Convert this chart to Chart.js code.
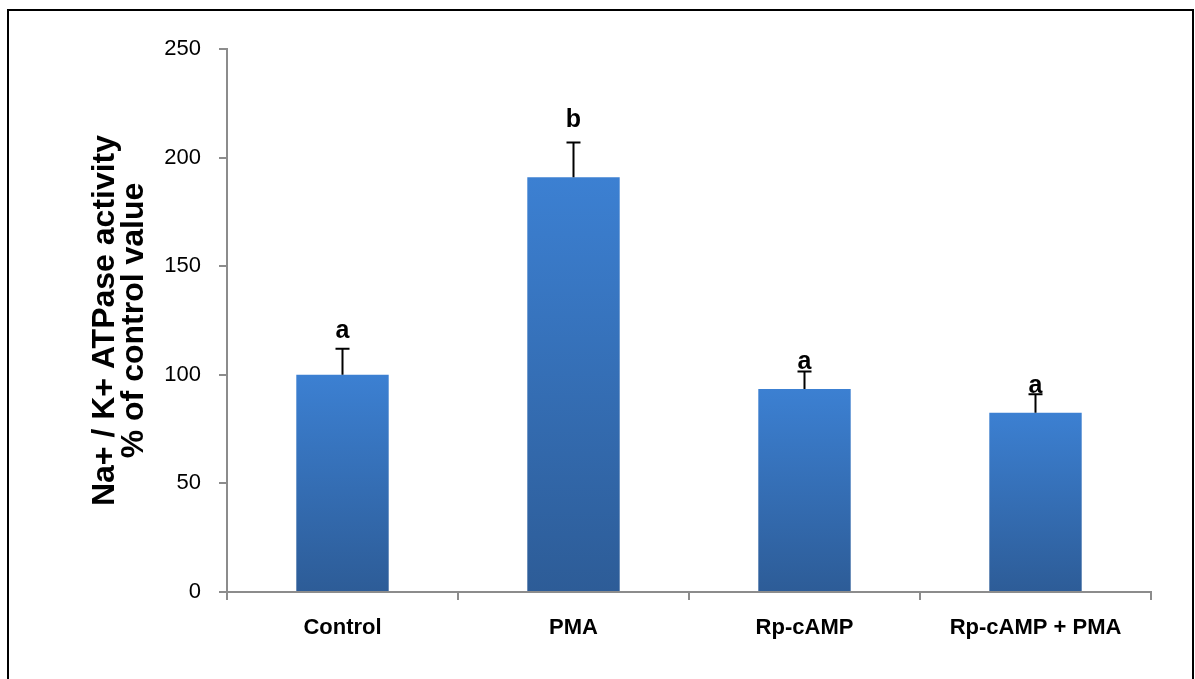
<!DOCTYPE html>
<html>
<head>
<meta charset="utf-8">
<script src="https://cdn.jsdelivr.net/npm/chart.js@4"></script>
<style>
  html, body { margin: 0; padding: 0; background: #fff; }
  #wrap { position: relative; width: 1195px; height: 679px; overflow: hidden; }
  #frame { position: absolute; left: 7px; top: 9px; width: 1183px; height: 700px;
           border: 2px solid #000; border-bottom: none; pointer-events: none; }
  canvas { position: absolute; left: 0; top: 0; }
</style>
</head>
<body>
<div id="wrap">
  <canvas id="chart" width="1195" height="679"></canvas>
  <div id="frame"></div>
</div>
<script>
// data
const groups = ['Control', 'PMA', 'Rp-cAMP', 'Rp-cAMP + PMA'];
const activity = [100, 191, 93.5, 82.5];
const errUp = [12, 16, 8, 8.5];
const letters = ['a', 'b', 'a', 'a'];
const letterAt = [117, 214, 102.7, 91.6];
const yTicks = [0, 50, 100, 150, 200, 250];

const FONT = "'Liberation Sans', Arial, sans-serif";

function barFill(ctx) {
  const chart = ctx.chart;
  const y = chart.scales.y;
  if (!y || !ctx.parsed) return '#3a7ccc';
  const top = y.getPixelForValue(ctx.parsed.y);
  const bottom = y.getPixelForValue(0);
  if (!isFinite(top) || !isFinite(bottom) || top === bottom) return '#3a7ccc';
  const g = chart.ctx.createLinearGradient(0, top, 0, bottom);
  g.addColorStop(0, '#3c80d2');
  g.addColorStop(1, '#2d5c97');
  return g;
}

// error bars (upper only) and significance letters
const extras = {
  id: 'extras',
  afterDatasetsDraw(chart) {
    const ctx = chart.ctx;
    const y = chart.scales.y;
    const meta = chart.getDatasetMeta(0);
    ctx.save();
    meta.data.forEach((bar, i) => {
      const top = y.getPixelForValue(activity[i] + errUp[i]);
      ctx.strokeStyle = '#000';
      ctx.lineWidth = 2;
      ctx.beginPath();
      ctx.moveTo(bar.x, bar.y);
      ctx.lineTo(bar.x, top);
      ctx.moveTo(bar.x - 7, top);
      ctx.lineTo(bar.x + 7, top);
      ctx.stroke();

      ctx.fillStyle = '#000';
      ctx.font = 'bold 25px ' + FONT;
      ctx.textAlign = 'center';
      ctx.textBaseline = 'alphabetic';
      ctx.fillText(letters[i], bar.x, y.getPixelForValue(letterAt[i]));
    });
    ctx.restore();
  }
};

new Chart(document.getElementById('chart'), {
  type: 'bar',
  data: {
    labels: groups,
    datasets: [{
      data: activity,
      backgroundColor: barFill,
      borderWidth: 0,
      categoryPercentage: 1,
      barPercentage: 0.4
    }]
  },
  options: {
    responsive: false,
    animation: false,
    events: [],
    layout: { padding: { top: 49, right: 44, left: 0, bottom: 0 } },
    plugins: {
      legend: { display: false },
      tooltip: { enabled: false }
    },
    scales: {
      x: {
        grid: {
          offset: true,
          drawOnChartArea: false,
          drawTicks: true,
          tickLength: 8,
          color: '#8c8c8c',
          lineWidth: 2
        },
        border: { color: '#8c8c8c', width: 2 },
        ticks: {
          color: '#000',
          padding: 15,
          maxRotation: 0,
          font: { family: FONT, size: 22, weight: 'bold' }
        },
        afterFit(scale) { scale.height = 87; }
      },
      y: {
        min: 0,
        max: 250,
        afterBuildTicks(scale) { scale.ticks = yTicks.map(v => ({ value: v })); },
        grid: {
          drawOnChartArea: false,
          drawTicks: true,
          tickLength: 8,
          color: '#8c8c8c',
          lineWidth: 2
        },
        border: { color: '#8c8c8c', width: 2 },
        ticks: {
          color: '#000',
          padding: 18,
          font: { family: FONT, size: 22 }
        },
        title: {
          display: true,
          text: ['Na+ / K+ ATPase activity', '% of control value'],
          color: '#000',
          font: { family: FONT, size: 32, weight: 'bold', lineHeight: 0.9 },
          padding: { top: 91, bottom: 0 }
        },
        afterFit(scale) { scale.width = 227; }
      }
    }
  },
  plugins: [extras]
});
</script>
</body>
</html>
